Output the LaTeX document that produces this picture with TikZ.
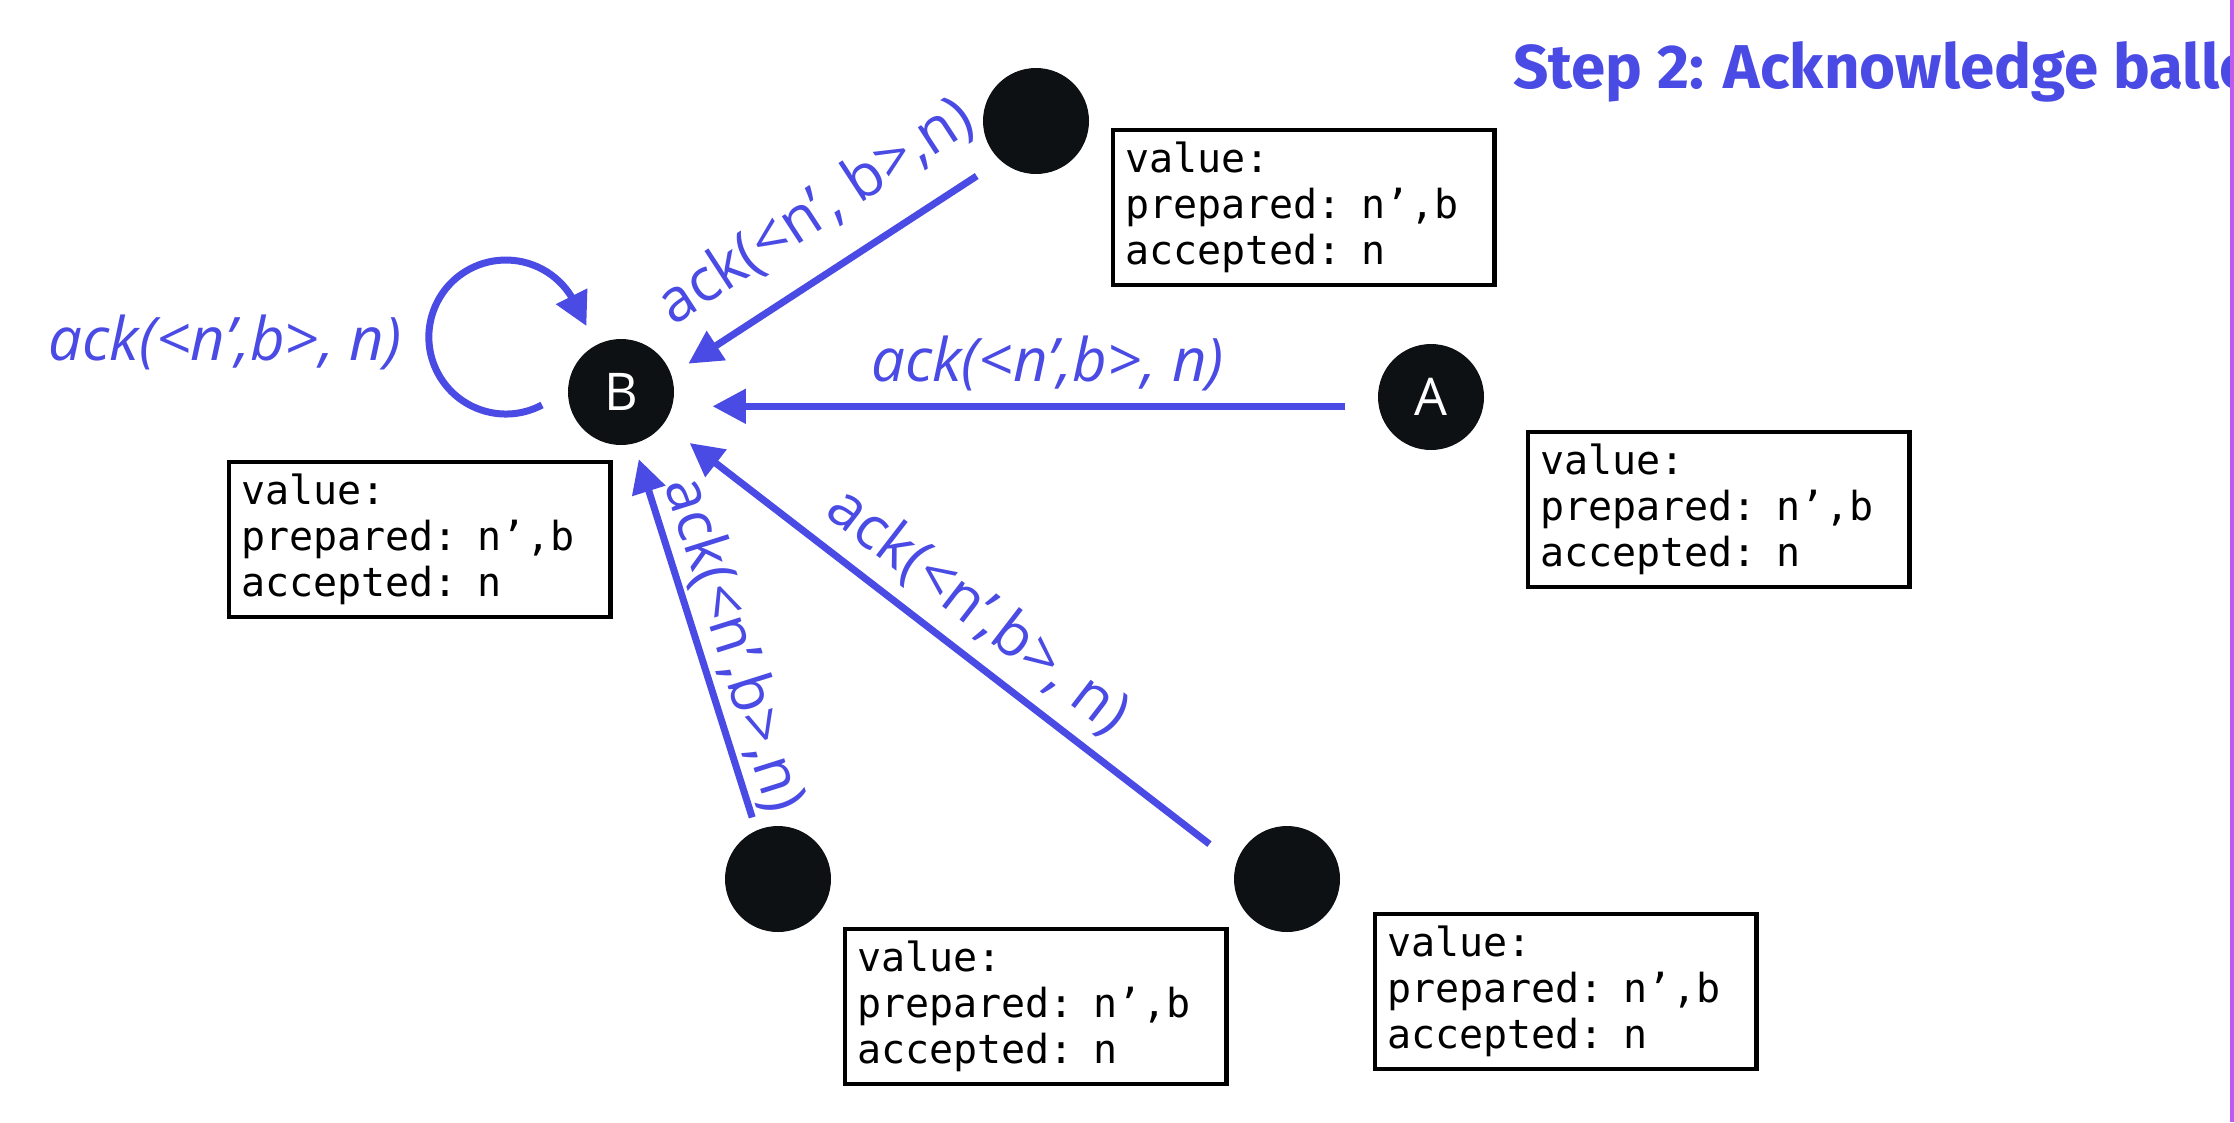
\documentclass[tikz,border=0pt]{standalone}
\usepackage{fontspec}
\setmainfont{Open Sans}
\newfontfamily\boxfont{DejaVu Sans Mono}
\newfontfamily\headfont{Fira Sans}
\usetikzlibrary{arrows.meta,calc}

\definecolor{ackblue}{RGB}{74,74,228}
\definecolor{dotblack}{RGB}{14,17,19}
\definecolor{edgepurple}{RGB}{190,90,240}

\tikzset{every picture/.style={line width=0.75pt}}
\tikzset{
  acceptor/.style={circle, fill=dotblack, inner sep=0pt, minimum size=79.5pt, text=white, font=\fontsize{39}{39}\selectfont},
  statebox/.style={draw=black, line width=3.2pt, anchor=north west, minimum width=286pt, minimum height=116pt, inner xsep=9pt, text width=268pt, align=left, font=\boxfont\fontsize{30}{34.5}\selectfont},
  ack/.style={draw=ackblue, line width=5.25pt, -{Triangle[length=25pt,width=25pt]}},
  acklabel/.style={text=ackblue, inner sep=1pt, font=\fontsize{45}{45}\selectfont},
}

\begin{document}
\begin{tikzpicture}[x=0.75pt,y=0.75pt,yscale=-1,xscale=1]
\useasboundingbox (0,0) rectangle (2234,1122);

%Shape: Circle
\node[acceptor] (nB) at (621,392) {B};
%Shape: Circle
\node[acceptor] (nA) at (1431,397) {A};
%Shape: Circle
\node[acceptor] (nT) at (1036,121) {};
%Shape: Circle
\node[acceptor] (nBL) at (778,879) {};
%Shape: Circle
\node[acceptor] (nBR) at (1287,879) {};

%Shape: Rectangle
\node[statebox] (sT) at (1111,128) {value:\\prepared: n’,b\\accepted: n};
%Shape: Rectangle
\node[statebox] (sA) at (1526,430) {value:\\prepared: n’,b\\accepted: n};
%Shape: Rectangle
\node[statebox] (sB) at (227,460) {value:\\prepared: n’,b\\accepted: n};
%Shape: Rectangle
\node[statebox] (sL) at (843,927) {value:\\prepared: n’,b\\accepted: n};
%Shape: Rectangle
\node[statebox] (sR) at (1373,912) {value:\\prepared: n’,b\\accepted: n};

%Straight Lines
\draw[ack, shorten <=21pt, shorten >=15pt] (nT.-132) -- node[acklabel, rotate=33.1, anchor=south, inner ysep=20pt, pos=0.466] (lT) {ack(<n’, b>,n)} (nB.19);
%Straight Lines
\draw[ack, shorten <=24.75pt, shorten >=28.5pt] (nA.190) -- node[acklabel, above=8pt, pos=0.47] (lA) {\itshape ack(<n’,b>, n)} (nA.190 -| nB.east);
%Straight Lines
\draw[ack, shorten <=10pt, shorten >=12pt] (nBL.114) -- node[acklabel, rotate=-72.5, anchor=south, inner ysep=3pt, pos=0.454] (lL) {ack(<n’,b>,n)} (nB.-76);
%Straight Lines
\draw[ack, shorten <=24.75pt, shorten >=24pt] (nBR.164) -- node[acklabel, rotate=-37.6, anchor=south, inner ysep=9pt, pos=0.497] (lR) {ack(<n’,b>, n)} (nB.-36);

%Curve Lines
\draw[ack] ($(nB)+(-79,13)$) arc[start angle=62, end angle=333, radius=77] -- ++(12,24);
% Text Node
\node[acklabel, font=\itshape\fontsize{45}{45}\selectfont] (lLoop) at (225,342) {ack(<n’,b>, n)};

% Text Node
\node[anchor=base west, text=ackblue, inner sep=0pt, font=\headfont\bfseries\fontsize{46.4}{46.4}\selectfont] (title) at (1513,88) {Step 2: Acknowledge ballot};

%Straight Lines
\draw[edgepurple, line width=2.5pt] (2232,0) -- (2232,1122);

\end{tikzpicture}
\end{document}
